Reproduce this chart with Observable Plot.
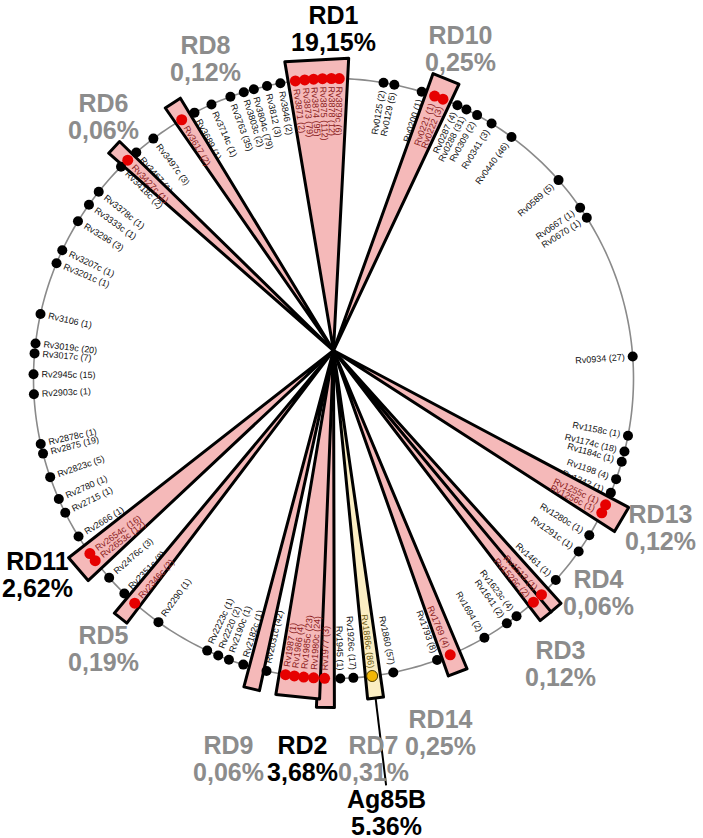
<!DOCTYPE html>
<html><head><meta charset="utf-8">
<script src="https://cdn.jsdelivr.net/npm/d3@7"></script>
<script src="https://cdn.jsdelivr.net/npm/@observablehq/plot@0.6"></script>
<style>body{margin:0;background:#fff}svg{display:block}</style>
</head><body><div id="chart"></div>
<script>
// ---------------- DATA ----------------
// genes on the circular genome (name, count, position in degrees clockwise from top, region)
const geneNames = ["Rv0125","Rv0129","Rv0200","Rv0221","Rv0222","Rv0287","Rv0288","Rv0309","Rv0341","Rv0440",
  "Rv0589","Rv0667","Rv0670","Rv0934","Rv1158c","Rv1174c","Rv1184c","Rv1198","Rv1242","Rv1255c","Rv1256c",
  "Rv1280c","Rv1291c","Rv1461","Rv1513","Rv1526c","Rv1623c","Rv1641","Rv1694","Rv1769","Rv1793","Rv1860",
  "Rv1886c","Rv1926c","Rv1945","Rv1977","Rv1980c","Rv1985c","Rv1986","Rv1987","Rv2031c","Rv2182c","Rv2190c",
  "Rv2220","Rv2223c","Rv2290","Rv2346c","Rv2351c","Rv2476c","Rv2653c","Rv2654c","Rv2666","Rv2715","Rv2780",
  "Rv2823c","Rv2875","Rv2878c","Rv2903c","Rv2945c","Rv3017c","Rv3019c","Rv3106","Rv3201c","Rv3207c","Rv3296",
  "Rv3333c","Rv3378c","Rv3418c","Rv3427c","Rv3467","Rv3497c","Rv3617","Rv3689","Rv3714c","Rv3763","Rv3803c",
  "Rv3804c","Rv3812","Rv3846","Rv3871","Rv3873","Rv3874","Rv3875","Rv3878","Rv3879c"];
const geneCounts = [2,5,1,1,3,4,31,2,3,46,
  5,1,1,27,1,18,1,4,1,1,1,
  1,1,1,1,2,4,2,2,4,8,57,
  86,17,1,3,24,23,4,1,42,1,1,
  2,1,1,2,8,3,12,16,1,1,1,
  5,19,1,1,15,7,20,1,1,1,3,
  1,1,2,1,1,3,2,1,1,35,2,
  79,3,2,2,79,95,112,12,6];
const geneAngles = [9.6,11.7,17.1,19.7,21.4,24.4,26.3,28.6,31.8,36.4,
  48.6,55.3,57.6,85.8,101.0,104.1,106.1,109.6,112.4,114.9,116.6,
  121.5,125.2,132.2,136.1,138.2,142.4,144.7,149.8,157.1,159.8,168.5,
  172.6,176.2,178.7,181.7,183.8,185.7,187.5,189.2,192.9,197.5,200.4,
  202.6,204.9,215.7,221.5,224.2,228.4,232.6,234.3,238.2,243.4,246.3,
  250.8,255.5,257.4,267.0,270.8,274.8,276.7,282.4,292.6,295.3,301.6,
  305.4,308.5,314.9,316.7,318.9,323.1,329.6,332.4,336.0,339.9,342.6,
  344.6,347.2,349.8,352.7,354.5,356.2,357.9,359.6,361.1];
const geneRegion = ["","","","RD10","RD10","","","","","",
  "","","","","","","","","","RD13","RD13",
  "","","","RD4","RD3","","","","RD14","","",
  "Ag85B","","","RD7","RD2","RD2","RD2","RD2","","","",
  "","","","RD5","","","RD11","RD11","","","",
  "","","","","","","","","","","",
  "","","","RD6","","","RD8","","","","",
  "","","","RD1","RD1","RD1","RD1","RD1","RD1"];

// regions of difference
const rdNames = ["RD1","RD10","RD8","RD6","RD13","RD4","RD3","RD14","Ag85B","RD7","RD2","RD9","RD5","RD11"];
const rdPercent = [19.15,0.25,0.12,0.06,0.12,0.06,0.12,0.25,5.36,0.31,3.68,0.06,0.19,2.62];
const rdPctLabels = ["19,15%","0,25%","0,12%","0,06%","0,12%","0,06%","0,12%","0,25%","5.36%","0,31%","3,68%","0,06%","0,19%","2,62%"];

// ---------------- LAYOUT ----------------
const CX = 333, CY = 378, R = 300;      // genome circle
const AX = 333, AY = 350;               // apex of the wedges
// wedge direction (deg from apex), length, half width at outer end
const wedgeGeom = {
  RD1:[-3.3,291,32], RD10:[22.5,294,14], RD8:[-33,295,9], RD6:[-47.2,299,8],
  RD13:[120.4,334,14], RD4:[139.2,340,7], RD3:[141.4,340,7], RD14:[158.9,345,10],
  Ag85B:[173.1,350,8], RD7:[181.3,357,9], RD2:[185.9,348,22], RD9:[193.6,348,8],
  RD5:[218.5,342,8], RD11:[229.4,336,15]
};
// centre of the name line; the percentage line sits LINE px below
const LINE = 27;
const labelPos = {
  RD1:[333,15], RD10:[460,35], RD8:[205,45], RD6:[103,103], RD13:[660,514], RD4:[598,579],
  RD3:[560,650], RD14:[440,719], Ag85B:[386,799], RD7:[373,745], RD2:[302,745], RD9:[228,745],
  RD5:[103,635], RD11:[37,561]
};

const rad = d => d * Math.PI / 180;
const genes = geneNames.map((n, i) => ({name: n, count: geneCounts[i], angle: geneAngles[i], region: geneRegion[i]}));
const gx = (a, r) => CX + r * Math.sin(rad(a));
const gy = (a, r) => CY - r * Math.cos(rad(a));
const labelText = d => `${d.name} (${d.count})`;
const isLeft = d => d.angle > 180;

const wedgePts = [];
rdNames.forEach(rd => {
  const [phi, len, hw] = wedgeGeom[rd];
  const ux = Math.sin(rad(phi)), uy = -Math.cos(rad(phi));
  const nx = Math.cos(rad(phi)), ny = Math.sin(rad(phi));
  const ex = AX + len * ux, ey = AY + len * uy;
  wedgePts.push({rd, x: AX, y: AY}, {rd, x: ex + hw * nx, y: ey + hw * ny}, {rd, x: ex - hw * nx, y: ey - hw * ny});
});
const ag = wedgeGeom.Ag85B;
const agLine = [{x1: AX + ag[1] * Math.sin(rad(ag[0])), y1: AY - ag[1] * Math.cos(rad(ag[0])),
                 x2: AX + 438 * Math.sin(rad(ag[0])), y2: AY - 438 * Math.cos(rad(ag[0]))}];

const circle = d3.range(0, 361, 1).map(a => ({x: gx(a, R), y: gy(a, R)}));
const rdLabels = rdNames.map((rd, i) => ({rd, pct: rdPercent[i], pctLabel: rdPctLabels[i]}));

const PINK = "#f5b9b9", YELLOW = "#fbeec3";
const textFill = d => d.region === "" ? "#111" : (d.region === "Ag85B" ? "#6b5a12" : "#8a2020");
const labelOpts = (left) => ({
  x: d => gx(d.angle, R - 8), y: d => gy(d.angle, R - 8), text: labelText,
  rotate: d => left ? d.angle + 90 : d.angle - 90, textAnchor: left ? "start" : "end",
  fontSize: 9, fill: textFill
});
const rdFill = d => d.pct > 1 ? "#000" : "#8c8c8c";

const plot = Plot.plot({
  width: 703, height: 838, margin: 0,
  x: {domain: [0, 703], range: [0, 703], axis: null},
  y: {domain: [0, 838], range: [0, 838], axis: null},
  style: {fontFamily: "Liberation Sans, Arial, sans-serif", background: "#fff"},
  marks: [
    Plot.line(circle, {x: "x", y: "y", stroke: "#8a8a8a", strokeWidth: 1.6}),
    Plot.text(genes.filter(d => d.region === "" && isLeft(d)), labelOpts(true)),
    Plot.text(genes.filter(d => d.region === "" && !isLeft(d)), labelOpts(false)),
    Plot.link(agLine, {x1: "x1", y1: "y1", x2: "x2", y2: "y2", stroke: "#000", strokeWidth: 2}),
    Plot.line(wedgePts.filter(d => d.rd !== "Ag85B"), {x: "x", y: "y", z: "rd", curve: "linear-closed",
      fill: PINK, stroke: "#000", strokeWidth: 3, strokeLinejoin: "round"}),
    Plot.line(wedgePts.filter(d => d.rd === "Ag85B"), {x: "x", y: "y", z: "rd", curve: "linear-closed",
      fill: YELLOW, stroke: "#000", strokeWidth: 3, strokeLinejoin: "round"}),
    Plot.dot(genes.filter(d => d.region === ""), {x: d => gx(d.angle, R), y: d => gy(d.angle, R), r: 5, fill: "#000"}),
    Plot.dot(genes.filter(d => d.region !== "" && d.region !== "Ag85B"), {x: d => gx(d.angle, R), y: d => gy(d.angle, R), r: 5.5, fill: "#e60000"}),
    Plot.dot(genes.filter(d => d.region === "Ag85B"), {x: d => gx(d.angle, R), y: d => gy(d.angle, R), r: 5.5, fill: "#f2b705", stroke: "#4a3c00", strokeWidth: 1}),
    Plot.text(genes.filter(d => d.region !== "" && isLeft(d)), labelOpts(true)),
    Plot.text(genes.filter(d => d.region !== "" && !isLeft(d)), labelOpts(false)),
    Plot.text(rdLabels, {x: d => labelPos[d.rd][0], y: d => labelPos[d.rd][1], text: "rd",
      fontSize: 25, fontWeight: "bold", fill: rdFill}),
    Plot.text(rdLabels, {x: d => labelPos[d.rd][0], y: d => labelPos[d.rd][1] + LINE, text: "pctLabel",
      fontSize: 25, fontWeight: "bold", fill: rdFill})
  ]
});
document.getElementById("chart").appendChild(plot);
</script>
</body></html>
